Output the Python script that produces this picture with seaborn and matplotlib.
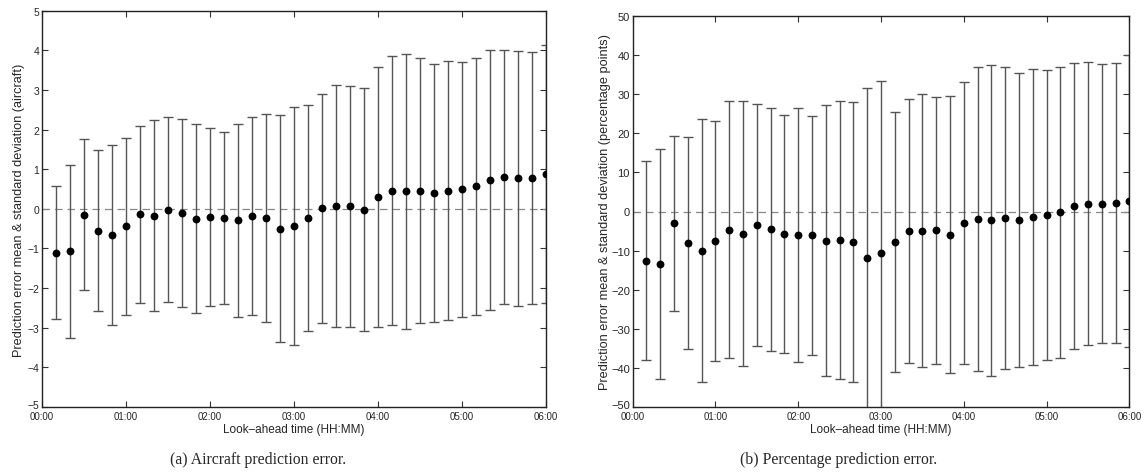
import numpy as np
import pandas as pd
import matplotlib
matplotlib.use("Agg")
import matplotlib.pyplot as plt
import matplotlib.transforms as mtransforms
import seaborn as sns

# ---- data ----
minutes = list(range(10, 361, 10))
tick_minutes = [0, 60, 120, 180, 240, 300, 360]
tick_labels = ["00:00", "01:00", "02:00", "03:00", "04:00", "05:00", "06:00"]

aircraft_mean = [-1.11, -1.07, -0.15, -0.55, -0.67, -0.44, -0.14, -0.18, -0.02, -0.11,
                 -0.25, -0.21, -0.23, -0.29, -0.18, -0.23, -0.50, -0.43, -0.22, 0.02,
                 0.08, 0.06, -0.02, 0.30, 0.46, 0.44, 0.46, 0.40, 0.46, 0.49,
                 0.57, 0.74, 0.81, 0.77, 0.79, 0.88]
aircraft_std = [1.68, 2.18, 1.91, 2.03, 2.27, 2.23, 2.23, 2.41, 2.34, 2.37,
                2.38, 2.24, 2.18, 2.44, 2.49, 2.62, 2.87, 3.01, 2.85, 2.89,
                3.05, 3.04, 3.06, 3.28, 3.39, 3.48, 3.35, 3.26, 3.27, 3.22,
                3.24, 3.28, 3.20, 3.21, 3.18, 3.26]

pct_mean = [-12.6, -13.4, -2.95, -8.05, -10.0, -7.55, -4.6, -5.7, -3.45, -4.55,
            -5.8, -6.0, -6.1, -7.45, -7.25, -7.8, -12.0, -10.6, -7.85, -5.05,
            -4.9, -4.85, -5.9, -2.9, -1.9, -2.2, -1.65, -2.15, -1.35, -0.9,
            -0.2, 1.4, 2.0, 2.0, 2.15, 2.65]
pct_std = [25.4, 29.3, 22.35, 26.95, 33.6, 30.75, 32.9, 33.8, 30.95, 30.95,
           30.4, 32.5, 30.5, 34.65, 35.45, 35.8, 43.6, 43.9, 33.15, 33.75,
           34.9, 34.05, 35.3, 36.0, 38.8, 39.7, 38.65, 37.45, 37.75, 37.1,
           37.1, 36.6, 36.2, 35.7, 35.65, 37.35]

sns.set_theme(style="ticks")
plt.rcParams["font.family"] = ["Liberation Sans", "DejaVu Sans"]

W, H = 1148, 477
fig = plt.figure(figsize=(W / 100, H / 100), dpi=100)


def px_axes(x0, y0, x1, y1):
    return fig.add_axes([x0 / W, 1 - y1 / H, (x1 - x0) / W, (y1 - y0) / H])


def panel(ax, mean, std, ylim, yticks, ylabel, ylabelpad, ysize):
    df = pd.DataFrame({"t": minutes, "m": mean, "s": std})
    ax.axhline(0, color="#888888", lw=0.9, ls=(0, (6, 4)), zorder=1)
    ax.errorbar(df["t"], df["m"], yerr=df["s"], fmt="none", ecolor="#555555",
                elinewidth=1.0, capsize=3.5, capthick=1.0, zorder=2)
    sns.scatterplot(data=df, x="t", y="m", ax=ax, color="black", s=32,
                    edgecolor="black", linewidth=0, zorder=3, legend=False)
    ax.set_xlim(0, 360)
    ax.set_ylim(*ylim)
    ax.set_xticks(tick_minutes)
    ax.set_xticklabels(tick_labels)
    ax.set_yticks(yticks)
    ax.set_yticklabels([str(v).replace("-", "\u2212") for v in yticks])
    ax.tick_params(direction="in", length=4, width=0.8, top=True, right=True,
                   labelsize=ysize, pad=2, color="#333333")
    ax.tick_params(axis="x", labelsize=7, pad=3)
    # nudge the lowest y tick label up a little, as in the reference
    lab = ax.get_yticklabels()[0]
    lab.set_transform(lab.get_transform() +
                      mtransforms.ScaledTranslation(0, 3 / 100, fig.dpi_scale_trans))
    for sp in ax.spines.values():
        sp.set_linewidth(1.0)
        sp.set_color("#222222")
    ax.set_xlabel("Look\u2013ahead time (HH:MM)", fontsize=8.5, labelpad=1)
    ax.set_ylabel(ylabel, fontsize=9.2, labelpad=ylabelpad)


ax1 = px_axes(42, 11.7, 546, 408)
panel(ax1, aircraft_mean, aircraft_std, (-5, 5), list(range(-5, 6)),
      "Prediction error mean & standard deviation (aircraft)", 2, 7.5)

ax2 = px_axes(632.7, 16.7, 1129.3, 408.3)
panel(ax2, pct_mean, pct_std, (-50, 50), list(range(-50, 51, 10)),
      "Prediction error mean & standard deviation (percentage points)", 0, 8)

fig.text(258 / W, 1 - 460 / H, "(a) Aircraft prediction error.",
         family=["Liberation Serif", "DejaVu Serif"], fontsize=11.3,
         ha="center", va="center")
fig.text(839 / W, 1 - 460 / H, "(b) Percentage prediction error.",
         family=["Liberation Serif", "DejaVu Serif"], fontsize=11.3,
         ha="center", va="center")

fig.savefig("out.png", dpi=100, facecolor="white")
